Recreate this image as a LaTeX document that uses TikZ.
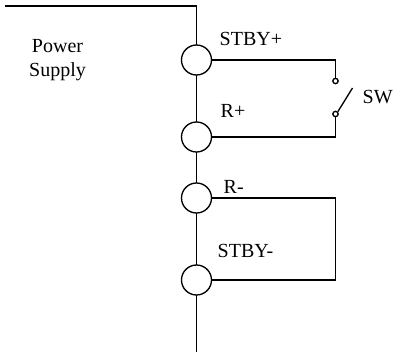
\documentclass[tikz,border=0pt]{standalone}
\usepackage{fontspec}
\setmainfont{Liberation Serif}
\usetikzlibrary{positioning}

\begin{document}
\begin{tikzpicture}[x=0.6pt,y=-0.6pt,line width=0.8pt,
    term/.style={circle,draw,fill=white,minimum size=18pt,inner sep=0pt},
    contact/.style={circle,draw,fill=white,minimum size=3.2pt,inner sep=0pt},
    lbl/.style={anchor=base west,inner sep=0pt,font=\fontsize{12}{14.4}\selectfont}]

  \useasboundingbox (0,0) rectangle (403,354);

  % supply rail
  \coordinate (top) at (5,6);
  \coordinate (corner) at (196.5,6);
  \coordinate (bottom) at (196.5,352);
  \draw (top) -- (corner) -- (bottom);

  % terminals
  \node[term] (stbyp) at (196.5,60)  {};
  \node[term] (rp)    at (196.5,137) {};
  \node[term] (rm)    at (196.5,198) {};
  \node[term] (stbym) at (196.5,280) {};

  % switch
  \node[contact] (sw1) at (335.5,81)  {};
  \node[contact] (sw2) at (335.5,114) {};
  \coordinate (blade) at (352.5,88);
  \draw (stbyp.east) -| (sw1.north);
  \draw (rp.east) -| (sw2.south);
  \draw (sw2.north east) -- (blade);

  % loop between R- and STBY-
  \coordinate (loop) at (335.5,199);
  \draw (rm.east) -- (rm.east -| loop) |- (stbym.east);

  \node[lbl] (lstbyp) at (219,45)  {STBY+};
  \node[lbl] (lrp)    at (220,117) {R+};
  \node[lbl] (lsw)    at (362,103) {SW};
  \node[lbl] (lrm)    at (223,193) {R-};
  \node[lbl] (lstbym) at (217,257) {STBY-};
  \node[align=center,inner sep=0pt,font=\fontsize{12}{14.4}\selectfont] (psu) at (57.5,60) {Power\\Supply};
\end{tikzpicture}
\end{document}
